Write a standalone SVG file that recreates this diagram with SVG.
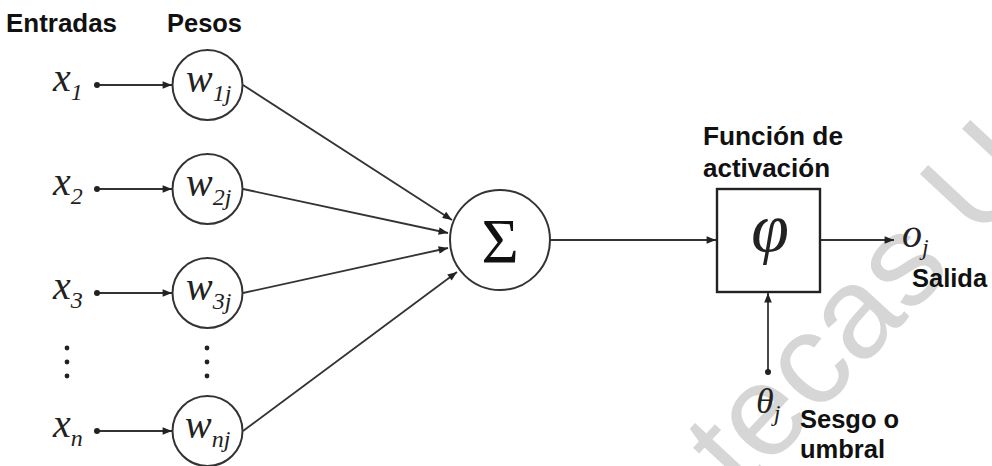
<svg xmlns="http://www.w3.org/2000/svg" width="992" height="466" viewBox="0 0 992 466">
<style>
.lbl{font-family:"Liberation Sans",Arial,sans-serif;font-weight:bold;font-size:25.5px;fill:#111}
.m{font-family:"Liberation Serif","Times New Roman",serif;font-style:italic;fill:#222}
.big{font-size:40px}
.sub{font-size:24px}
.ln{stroke:#333;stroke-width:1.8;fill:none}
.nd{stroke:#333;stroke-width:2;fill:#fff}
.dot{fill:#222}
.wm{font-family:"Liberation Sans",Arial,sans-serif;font-size:130px;fill:#d6d6d6}
</style>
<defs>
<marker id="ah" viewBox="0 0 10 8" refX="10" refY="4" markerWidth="11" markerHeight="7.5" markerUnits="userSpaceOnUse" orient="auto">
<path d="M0,0 L10,4 L0,8 z" fill="#222"/>
</marker>
</defs>
<rect width="992" height="466" fill="#fff"/>
<text class="wm" x="742" y="496" transform="rotate(-47 742 496)">tecas UA</text>

<g id="headers">
<text class="lbl" x="6" y="32" textLength="111" lengthAdjust="spacingAndGlyphs">Entradas</text>
<text class="lbl" x="167" y="32" textLength="75" lengthAdjust="spacingAndGlyphs">Pesos</text>
</g>

<g id="connectors">
<line class="ln" x1="97" y1="85" x2="172" y2="85" marker-end="url(#ah)"/>
<line class="ln" x1="97" y1="189" x2="172" y2="189" marker-end="url(#ah)"/>
<line class="ln" x1="97" y1="293" x2="172" y2="293" marker-end="url(#ah)"/>
<line class="ln" x1="97" y1="431" x2="172" y2="431" marker-end="url(#ah)"/>
<line class="ln" x1="243" y1="85" x2="452" y2="220" marker-end="url(#ah)"/>
<line class="ln" x1="243" y1="189" x2="448" y2="233" marker-end="url(#ah)"/>
<line class="ln" x1="243" y1="293" x2="448" y2="248" marker-end="url(#ah)"/>
<line class="ln" x1="243" y1="431" x2="457" y2="272" marker-end="url(#ah)"/>
<line class="ln" x1="550" y1="240" x2="716" y2="240" marker-end="url(#ah)"/>
<line class="ln" x1="820" y1="240" x2="894" y2="240" marker-end="url(#ah)"/>
<line class="ln" x1="768" y1="372" x2="768" y2="293" marker-end="url(#ah)"/>
<circle class="dot" cx="97" cy="85" r="3"/>
<circle class="dot" cx="97" cy="189" r="3"/>
<circle class="dot" cx="97" cy="293" r="3"/>
<circle class="dot" cx="97" cy="431" r="3"/>
<circle class="dot" cx="768" cy="372" r="3"/>
</g>

<g id="inputs">
<text class="m" x="53" y="91"><tspan class="big">x</tspan><tspan class="sub" dy="9">1</tspan></text>
<text class="m" x="53" y="195"><tspan class="big">x</tspan><tspan class="sub" dy="9">2</tspan></text>
<text class="m" x="53" y="299"><tspan class="big">x</tspan><tspan class="sub" dy="9">3</tspan></text>
<text class="m" x="53" y="437"><tspan class="big">x</tspan><tspan class="sub" dy="9">n</tspan></text>
<g class="dot">
<circle cx="67" cy="348" r="2.4"/><circle cx="67" cy="362" r="2.4"/><circle cx="67" cy="376" r="2.4"/>
<circle cx="207" cy="348" r="2.4"/><circle cx="207" cy="362" r="2.4"/><circle cx="207" cy="376" r="2.4"/>
</g>
</g>

<g id="w1"><circle class="nd" cx="207.5" cy="85" r="35"/><text class="m" x="186" y="92"><tspan class="big">w</tspan><tspan class="sub" dy="9">1j</tspan></text></g>
<g id="w2"><circle class="nd" cx="207.5" cy="189" r="35"/><text class="m" x="186" y="196"><tspan class="big">w</tspan><tspan class="sub" dy="9">2j</tspan></text></g>
<g id="w3"><circle class="nd" cx="207.5" cy="293" r="35"/><text class="m" x="186" y="300"><tspan class="big">w</tspan><tspan class="sub" dy="9">3j</tspan></text></g>
<g id="wn"><circle class="nd" cx="207.5" cy="431" r="35"/><text class="m" x="185" y="438"><tspan class="big">w</tspan><tspan class="sub" dy="9">nj</tspan></text></g>

<g id="sum">
<circle class="nd" cx="500" cy="240" r="50"/>
<text x="500" y="263" text-anchor="middle" font-family="Liberation Serif,'Times New Roman',serif" font-size="64" fill="#111">Σ</text>
</g>

<g id="activation">
<text class="lbl" x="703" y="145" textLength="140" lengthAdjust="spacingAndGlyphs">Función de</text>
<text class="lbl" x="703" y="177" textLength="127" lengthAdjust="spacingAndGlyphs">activación</text>
<rect x="717" y="189" width="103" height="103" fill="#fff" stroke="#222" stroke-width="2.4"/>
<text class="m" x="770" y="251" text-anchor="middle" font-size="68">φ</text>
</g>

<g id="output">
<text class="m" x="902" y="247"><tspan class="big">o</tspan><tspan class="sub" dy="8">j</tspan></text>
<text class="lbl" x="912" y="287">Salida</text>
</g>

<g id="bias">
<text class="m" x="756" y="413"><tspan style="font-size:36px">θ</tspan><tspan class="sub" dy="8">j</tspan></text>
<text class="lbl" x="800" y="428">Sesgo o</text>
<text class="lbl" x="800" y="458">umbral</text>
</g>
</svg>
